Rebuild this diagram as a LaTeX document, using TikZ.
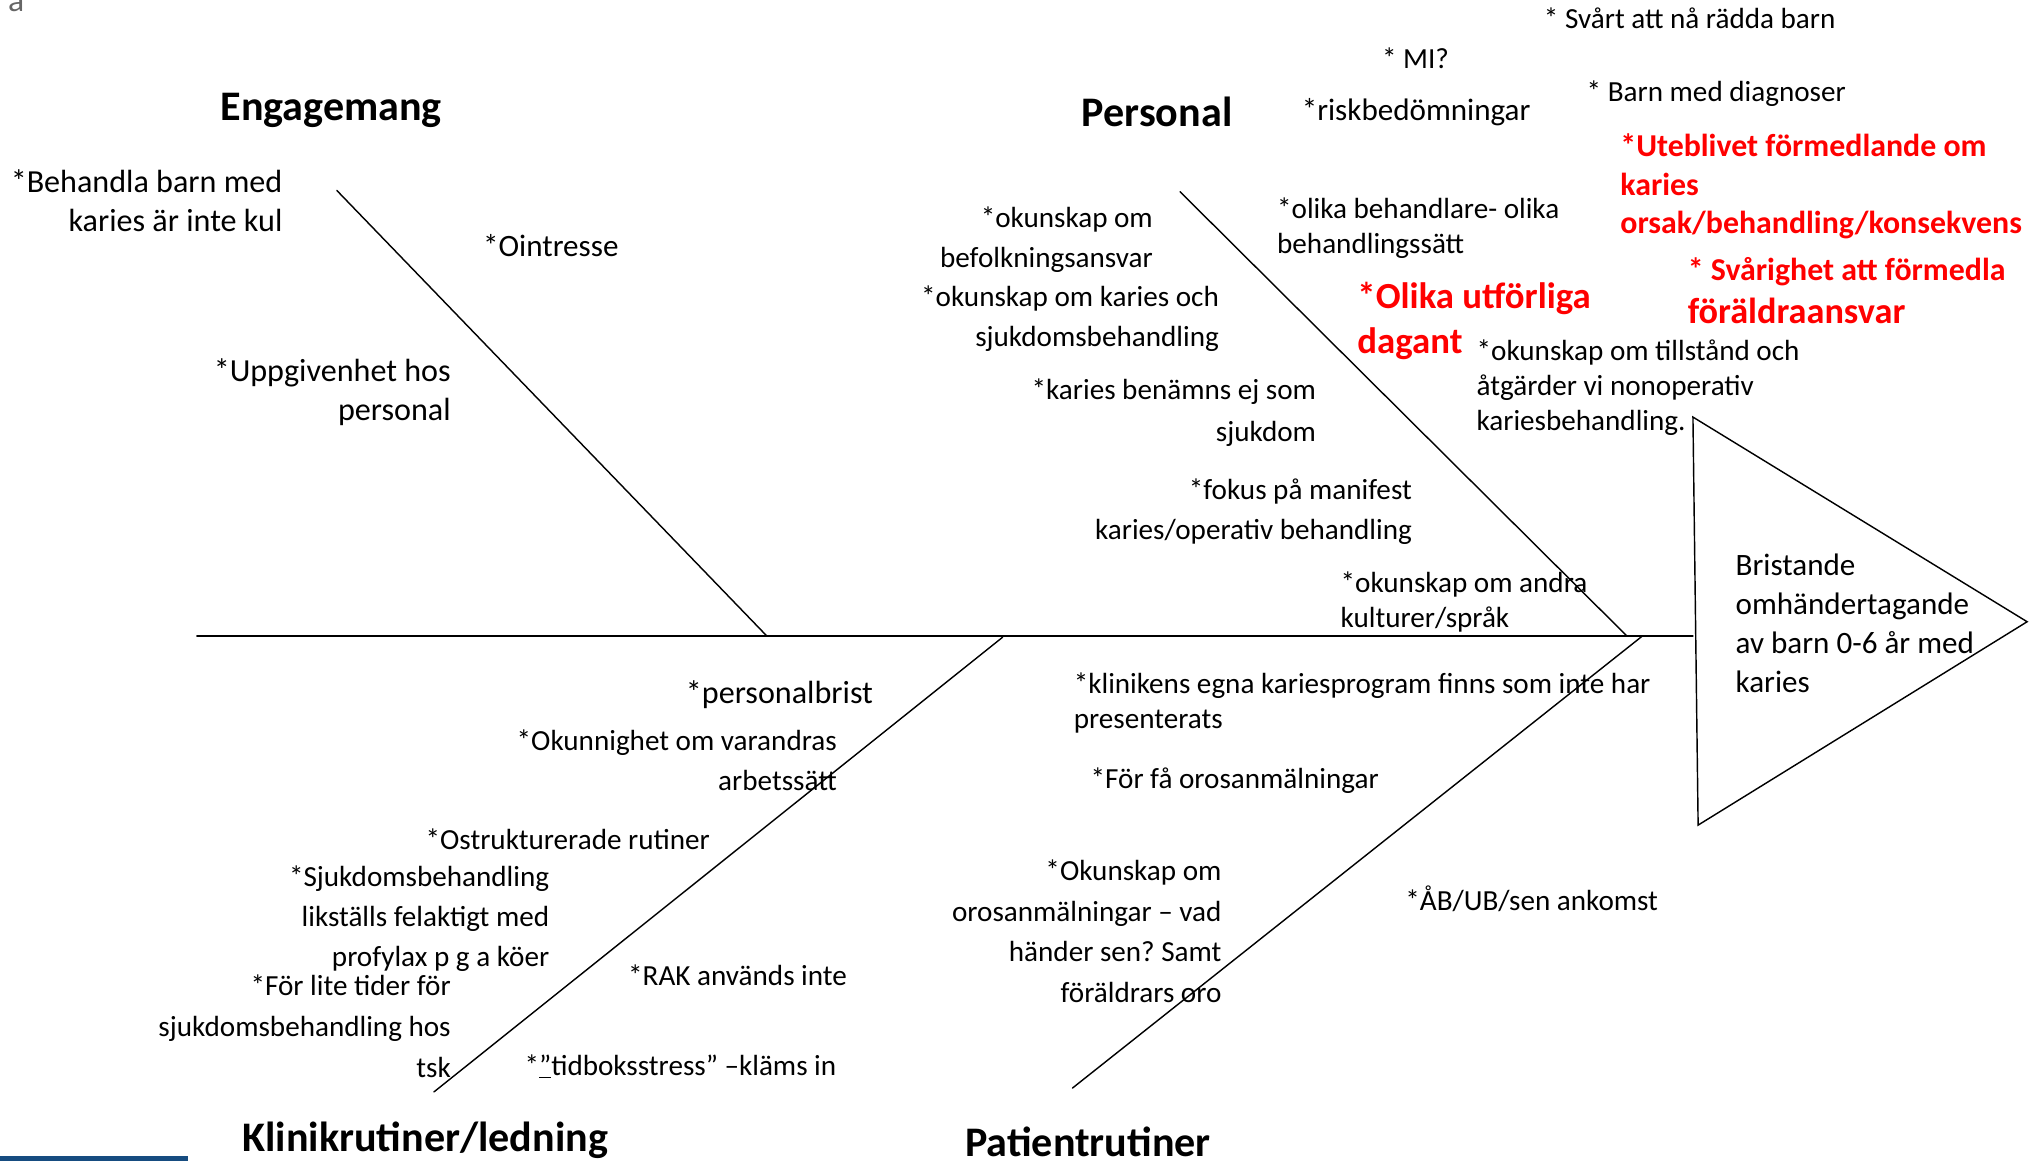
\documentclass[tikz,border=0pt]{standalone}
\usepackage{fontspec}
\setmainfont{Carlito}
\frenchspacing
\definecolor{barblue}{RGB}{22,76,128}
\definecolor{redtxt}{RGB}{255,0,0}
\begin{document}
\begin{tikzpicture}[x=1pt,y=-1pt,
  bone/.style={line width=1.1pt, black, line cap=round},
  L/.style 2 args={inner sep=0pt, outer sep=0pt, anchor=north west, align=left,
     font=\fontsize{#1}{#2}\selectfont, yshift={0.7*#2pt}, execute at begin node=\strut},
  R/.style 2 args={inner sep=0pt, outer sep=0pt, anchor=north east, align=right,
     font=\fontsize{#1}{#2}\selectfont, yshift={0.7*#2pt}, execute at begin node=\strut},
  LB/.style 2 args={L={#1}{#2}, font=\fontsize{#1}{#2}\selectfont\bfseries, text=redtxt},
  head/.style={inner sep=0pt, anchor=base west, font=\fontsize{32.5}{38}\selectfont\bfseries}
]
\fill[white] (0,0) rectangle (1568,896);
\useasboundingbox (0,0) rectangle (1568,896);

% stray letter and bar
\node[inner sep=0pt, anchor=base west, text=black!60, font=\fontsize{26}{30}\selectfont] (stray) at (6,9) {a};
\fill[barblue] (0,892.5) rectangle (145,896);

% skeleton
\coordinate (spL) at (152,491);
\coordinate (spR) at (1307,491);
\coordinate (e1) at (260,147);
\coordinate (e2) at (592,491);
\coordinate (p1) at (911,148);
\coordinate (p2) at (1256,491);
\coordinate (k1) at (774,492);
\coordinate (k2) at (335,843);
\coordinate (q1) at (1268,491);
\coordinate (q2) at (828,840);
\coordinate (T1) at (1307,322);
\coordinate (T2) at (1565,480);
\coordinate (T3) at (1311,637);
\draw[bone] (spL) -- (spR);
\draw[bone] (e1) -- (e2);
\draw[bone] (p1) -- (p2);
\draw[bone] (k1) -- (k2);
\draw[bone] (q1) -- (q2);
\draw[bone, line join=miter] (T1) -- (T2) -- (T3) -- cycle;

% headings
\node[head] (hE) at (170,93) {Engagemang};
\node[head] (hP) at (835,98) {Personal};
\node[head] (hK) at (187,889) {Klinikrutiner/ledning};
\node[head] (hQ) at (745,893) {Patientrutiner};

% Engagemang
\node[R={24.8}{30}] (t1) at (218,152) {*Behandla barn med\\karies är inte kul};
\node[L={24}{30}] (t2) at (373,198) {*Ointresse};
\node[R={24.8}{30}] (t3) at (348,298) {*Uppgivenhet hos\\personal};

% Personal
\node[R={22.5}{31}] (t4) at (890,181) {*okunskap om\\befolkningsansvar};
\node[R={22.5}{31}] (t5) at (941,242) {*okunskap om karies och\\sjukdomsbehandling};
\node[R={22.5}{32}] (t6) at (1016,315) {*karies benämns ej som\\sjukdom};
\node[R={22.5}{31}] (t7) at (1090,391) {*fokus på manifest\\karies/operativ behandling};
\node[L={22.5}{27}] (t8) at (1035,460) {*okunskap om andra\\kulturer/språk};
\node[L={22.5}{27}] (t9) at (986,172) {*olika behandlare- olika\\behandlingssätt};
\node[L={24}{30}] (t10) at (1005,93) {*riskbedömningar};
\node[L={22.5}{30}] (t11) at (1067,53) {* MI?};
\node[L={22.5}{30}] (t12) at (1192,22) {* Svårt att nå rädda barn};
\node[L={22.5}{30}] (t13) at (1225,78) {* Barn med diagnoser};
\node[LB={24.6}{30}] (t14) at (1251,124) {*Uteblivet förmedlande om\\karies\\orsak/behandling/konsekvens};
\node[LB={28.4}{35}] (t15) at (1048,242) {*Olika utförliga\\dagant};
\node[LB={24.6}{33}] (t16) at (1303,222) {* Svårighet att förmedla\\{\fontsize{28}{33}\selectfont föräldraansvar}};
\node[L={22.5}{27}] (t17) at (1140,281) {*okunskap om tillstånd och\\åtgärder vi nonoperativ\\kariesbehandling.};

% Patientrutiner
\node[L={22.5}{27}] (t18) at (829,538) {*klinikens egna kariesprogram finns som inte har\\presenterats};
\node[L={22.5}{30}] (t19) at (842,609) {*För få orosanmälningar};
\node[R={22.5}{31.3}] (t20) at (943,686) {*Okunskap om\\orosanmälningar – vad\\händer sen? Samt\\föräldrars oro};
\node[L={22.5}{30}] (t21) at (1085,703) {*ÅB/UB/sen ankomst};

% Klinikrutiner
\node[R={24.8}{30}] (t22) at (674,543) {*personalbrist};
\node[R={22.5}{31}] (t23) at (646,585) {*Okunnighet om varandras\\arbetssätt};
\node[R={22.5}{30}] (t24) at (548,656) {*Ostrukturerade rutiner};
\node[R={22.5}{31}] (t25) at (424,690) {*Sjukdomsbehandling\\likställs felaktigt med\\profylax p g a köer};
\node[R={22.5}{31.5}] (t26) at (348,775) {*För lite tider för\\sjukdomsbehandling hos\\tsk};
\node[L={22.5}{30}] (t27) at (485,761) {*RAK används inte};
\node[L={22.5}{30}] (t28) at (405,830) {*\underline{”}tidboksstress” –kläms in};

% head of fish
\node[L={24}{30}] (t29) at (1340,449) {Bristande\\omhändertagande\\av barn 0-6 år med\\karies};
\end{tikzpicture}
\end{document}
